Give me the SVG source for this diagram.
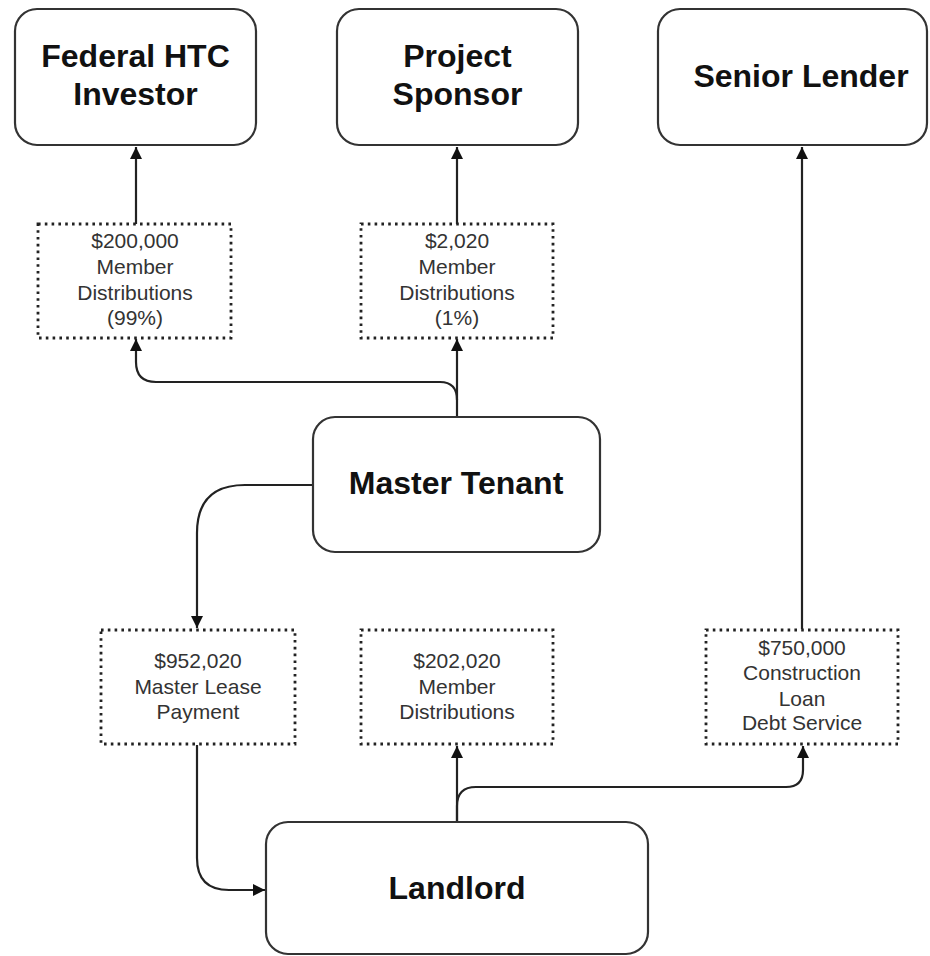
<svg xmlns="http://www.w3.org/2000/svg" width="930" height="956" viewBox="0 0 930 956">
<style>
.node{fill:#fff;stroke:#333;stroke-width:2.2}
.flow{fill:#fff;stroke:#222;stroke-width:2.8;stroke-dasharray:2.6 4.2}
.title{font-family:"Liberation Sans",Arial,sans-serif;font-weight:bold;font-size:32px;fill:#111;text-anchor:middle}
.lbl{font-family:"Liberation Sans",Arial,sans-serif;font-size:21px;fill:#333;text-anchor:middle}
.conn{fill:none;stroke:#222;stroke-width:2.2;marker-end:url(#arr)}
</style>
<defs>
<marker id="arr" markerUnits="userSpaceOnUse" markerWidth="14" markerHeight="14" refX="12" refY="6" orient="auto">
<path d="M0,0 L12,6 L0,12 z" fill="#111"/>
</marker>
</defs>
<rect width="930" height="956" fill="#fff"/>
<g id="connectors">
<path class="conn" d="M136,224 V147"/>
<path class="conn" d="M457,224 V147"/>
<path class="conn" d="M802,629 V147"/>
<path class="conn" d="M457,417 V339"/>
<path class="conn" d="M457,400 Q457,382 440,382 H156 Q136,382 136,362 V339"/>
<path class="conn" d="M313,485 H245 Q197,485 197,533 V628"/>
<path class="conn" d="M197,745 V858 Q197,890 229,890 H265"/>
<path class="conn" d="M457,822 V746"/>
<path class="conn" d="M457,822 V806 Q457,787 476,787 H786 Q803,787 803,770 V746"/>
</g>
<g id="federal-htc-investor">
<rect class="node" x="15" y="9" width="241" height="136" rx="22"/>
<text class="title" x="135.5" y="67">Federal HTC</text>
<text class="title" x="135.5" y="105">Investor</text>
</g>
<g id="project-sponsor">
<rect class="node" x="337" y="9" width="241" height="136" rx="22"/>
<text class="title" x="457.5" y="67">Project</text>
<text class="title" x="457.5" y="105">Sponsor</text>
</g>
<g id="senior-lender">
<rect class="node" x="658" y="9" width="269" height="136" rx="22"/>
<text class="title" x="801" y="87">Senior Lender</text>
</g>
<g id="dist-99">
<rect class="flow" x="38" y="224" width="193" height="114"/>
<text class="lbl" x="135" y="248">$200,000</text>
<text class="lbl" x="135" y="274">Member</text>
<text class="lbl" x="135" y="300">Distributions</text>
<text class="lbl" x="135" y="325">(99%)</text>
</g>
<g id="dist-1">
<rect class="flow" x="361" y="224" width="192" height="114"/>
<text class="lbl" x="457" y="248">$2,020</text>
<text class="lbl" x="457" y="274">Member</text>
<text class="lbl" x="457" y="300">Distributions</text>
<text class="lbl" x="457" y="325">(1%)</text>
</g>
<g id="master-tenant">
<rect class="node" x="313" y="417" width="287" height="135" rx="22"/>
<text class="title" x="456" y="494">Master Tenant</text>
</g>
<g id="master-lease-payment">
<rect class="flow" x="101" y="630" width="194" height="114"/>
<text class="lbl" x="198" y="668">$952,020</text>
<text class="lbl" x="198" y="694">Master Lease</text>
<text class="lbl" x="198" y="719">Payment</text>
</g>
<g id="member-distributions">
<rect class="flow" x="361" y="630" width="192" height="114"/>
<text class="lbl" x="457" y="668">$202,020</text>
<text class="lbl" x="457" y="694">Member</text>
<text class="lbl" x="457" y="719">Distributions</text>
</g>
<g id="debt-service">
<rect class="flow" x="706" y="630" width="192" height="114"/>
<text class="lbl" x="802" y="655">$750,000</text>
<text class="lbl" x="802" y="680">Construction</text>
<text class="lbl" x="802" y="706">Loan</text>
<text class="lbl" x="802" y="730">Debt Service</text>
</g>
<g id="landlord">
<rect class="node" x="266" y="822" width="382" height="132" rx="22"/>
<text class="title" x="457" y="899">Landlord</text>
</g>
</svg>
